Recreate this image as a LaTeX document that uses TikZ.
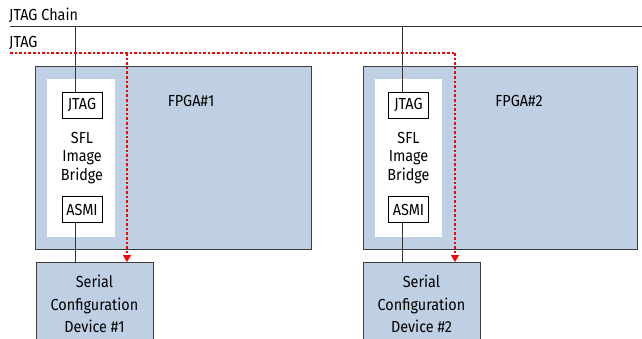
\documentclass[tikz,border=0pt]{standalone}
\usepackage{fontspec}
\setmainfont[FakeStretch=0.9]{Fira Sans}
\usetikzlibrary{arrows.meta}
\definecolor{fpgablue}{RGB}{192,208,228}
\definecolor{edgegray}{RGB}{60,60,60}
\begin{document}
\begin{tikzpicture}[x=1pt,y=-1pt,
  every node/.style={font=\fontsize{16}{18}\selectfont, text=black},
  bluebox/.style={draw=edgegray, line width=1pt, fill=fpgablue},
  panel/.style={fill=white, draw=none},
  portbox/.style={draw=black, line width=0.9pt, fill=white, minimum width=40pt, minimum height=26pt, inner sep=0pt},
  chainline/.style={draw=black!80, line width=0.9pt},
  jtagline/.style={draw=red, line width=1.2pt, dash pattern=on 2.6pt off 2pt},
  redtip/.style={-{Triangle[length=7pt,width=8pt]}}
]
\clip (0,0) rectangle (642,339);
% FPGA boxes
\node[bluebox, minimum width=276pt, minimum height=183pt, inner sep=0pt, anchor=north west] (fpga1) at (35,66) {};
\node[bluebox, minimum width=274pt, minimum height=183pt, inner sep=0pt, anchor=north west] (fpga2) at (363,66) {};
\node[panel, minimum width=68pt, minimum height=158pt, inner sep=0pt, anchor=north west] (panel1) at (47,79) {};
\node[panel, minimum width=67pt, minimum height=158pt, inner sep=0pt, anchor=north west] (panel2) at (375,79) {};
% port boxes
\node[portbox] (jtag1) at (82,105) {JTAG};
\node[portbox] (asmi1) at (82,209.5) {ASMI};
\node[portbox] (jtag2) at (408.5,105) {JTAG};
\node[portbox] (asmi2) at (408.5,209.5) {ASMI};
% SFL labels
\node[align=center, font=\fontsize{16}{18.5}\selectfont] (sfl1) at (82,158) {SFL\\Image\\Bridge};
\node[align=center, font=\fontsize{16}{18.5}\selectfont] (sfl2) at (408.5,158) {SFL\\Image\\Bridge};
% FPGA labels
\node[anchor=base, inner sep=0pt] (lab1) at (191,107) {FPGA\#1};
\node[anchor=base, inner sep=0pt] (lab2) at (519,107) {FPGA\#2};
% serial config devices
\node[bluebox, minimum width=117pt, minimum height=90pt, inner sep=0pt, anchor=north west] (ser1) at (36,262) {};
\node[bluebox, minimum width=117pt, minimum height=90pt, inner sep=0pt, anchor=north west] (ser2) at (363,262) {};
\node[align=center, font=\fontsize{16}{22.5}\selectfont] (sert1) at (94.5,304) {Serial\\Configuration\\Device \#1};
\node[align=center, font=\fontsize{16}{22.5}\selectfont] (sert2) at (421.5,304) {Serial\\Configuration\\Device \#2};
% top labels
\node[anchor=base west, inner sep=0pt] (chainlab) at (9,21) {JTAG Chain};
\node[anchor=base west, inner sep=0pt] (jtaglab) at (9,48) {JTAG};
% JTAG chain line
\coordinate (cL) at (10,26);
\coordinate (cR) at (642,26);
\coordinate (c1) at (75,26);
\coordinate (c2) at (402,26);
\draw[chainline] (cL) -- (cR);
\draw[chainline] (c1) -- (c1 |- jtag1.north);
\draw[chainline] (c2) -- (c2 |- jtag2.north);
\draw[chainline] (c1 |- asmi1.south) -- (c1 |- ser1.north);
\draw[chainline] (c2 |- asmi2.south) -- (c2 |- ser2.north);
% JTAG dotted red line
\coordinate (jL) at (10,53);
\coordinate (j1) at (127,53);
\coordinate (j2) at (455,53);
\draw[jtagline] (jL) -- (j2);
\draw[jtagline, redtip] (j1) -- (j1 |- ser1.north);
\draw[jtagline, redtip] (j2) -- (j2 |- ser2.north);
\end{tikzpicture}
\end{document}
